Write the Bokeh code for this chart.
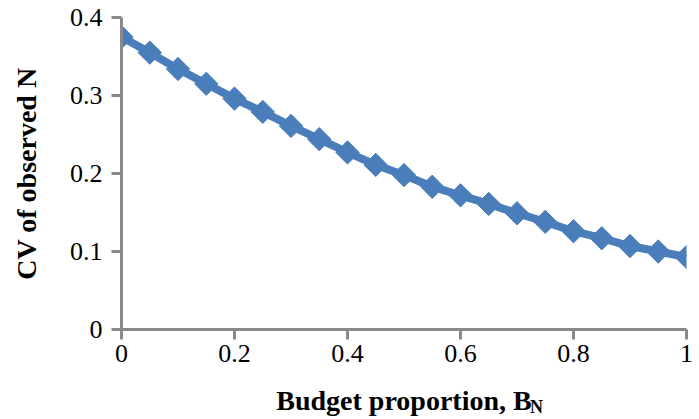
import numpy as np
from bokeh.plotting import figure
from bokeh.models import Range1d, FixedTicker, Label
from bokeh.embed import file_html
from bokeh.resources import INLINE

# Data
budget_proportion = [0.0, 0.05, 0.1, 0.15, 0.2, 0.25, 0.3, 0.35, 0.4, 0.45, 0.5,
                     0.55, 0.6, 0.65, 0.7, 0.75, 0.8, 0.85, 0.9, 0.95, 1.0]
cv_observed_n = [0.375, 0.355, 0.334, 0.315, 0.296, 0.279, 0.261, 0.244, 0.227, 0.211, 0.198,
                 0.183, 0.172, 0.161, 0.149, 0.138, 0.126, 0.117, 0.107, 0.100, 0.093]
x_ticks = [0, 0.2, 0.4, 0.6, 0.8, 1.0]
y_ticks = [0, 0.1, 0.2, 0.3, 0.4]
x_tick_labels = {0: "0", 0.2: "0.2", 0.4: "0.4", 0.6: "0.6", 0.8: "0.8", 1.0: "1"}
y_tick_labels = {0: "0", 0.1: "0.1", 0.2: "0.2", 0.3: "0.3", 0.4: "0.4"}
x_title = "Budget proportion, B"
x_title_sub = "N"
y_title = "CV of observed N"

FONT = "Liberation Serif"
BLUE = "#4a7ebb"
AXIS_GREY = "#898989"

p = figure(width=699, height=419, output_backend="svg", toolbar_location=None,
           x_range=Range1d(0, 1), y_range=Range1d(0, 0.4),
           min_border_left=121, min_border_right=11, min_border_top=17, min_border_bottom=90)
p.outline_line_color = None
p.grid.visible = False
p.background_fill_color = "white"
p.border_fill_color = "white"

p.line(budget_proportion, cv_observed_n, line_color=BLUE, line_width=8)
p.scatter(budget_proportion, cv_observed_n, marker="square", angle=np.pi / 4, size=16.5,
          fill_color=BLUE, line_color=BLUE)

for ax in (p.xaxis[0], p.yaxis[0]):
    ax.axis_line_color = AXIS_GREY
    ax.axis_line_width = 3
    ax.major_tick_line_color = AXIS_GREY
    ax.major_tick_line_width = 3
    ax.major_tick_in = 0
    ax.major_tick_out = 10
    ax.minor_tick_line_color = None
    ax.major_label_text_font = FONT
    ax.major_label_text_font_size = "26px"
    ax.major_label_text_color = "black"
    ax.axis_label_text_font = FONT
    ax.axis_label_text_font_size = "28px"
    ax.axis_label_text_font_style = "bold"
    ax.axis_label_text_color = "black"

p.xaxis.ticker = FixedTicker(ticks=x_ticks)
p.yaxis.ticker = FixedTicker(ticks=y_ticks)
p.xaxis.major_label_overrides = x_tick_labels
p.yaxis.major_label_overrides = y_tick_labels
p.xaxis.major_label_standoff = 5
p.yaxis.major_label_standoff = 9
p.xaxis.axis_label = x_title
p.yaxis.axis_label = y_title
p.xaxis.axis_label_standoff = 20
p.yaxis.axis_label_standoff = 25

# subscript N of the x title; placed in the right side panel so it is not clipped by the frame
sub = Label(x=0.723, y=-77, x_units="data", y_units="screen", text=x_title_sub,
            text_font=FONT, text_font_size="18px", text_font_style="bold",
            text_color="black", text_align="left", text_baseline="alphabetic")
p.add_layout(sub, "right")

open("out.html", "w").write(file_html(p, INLINE))
